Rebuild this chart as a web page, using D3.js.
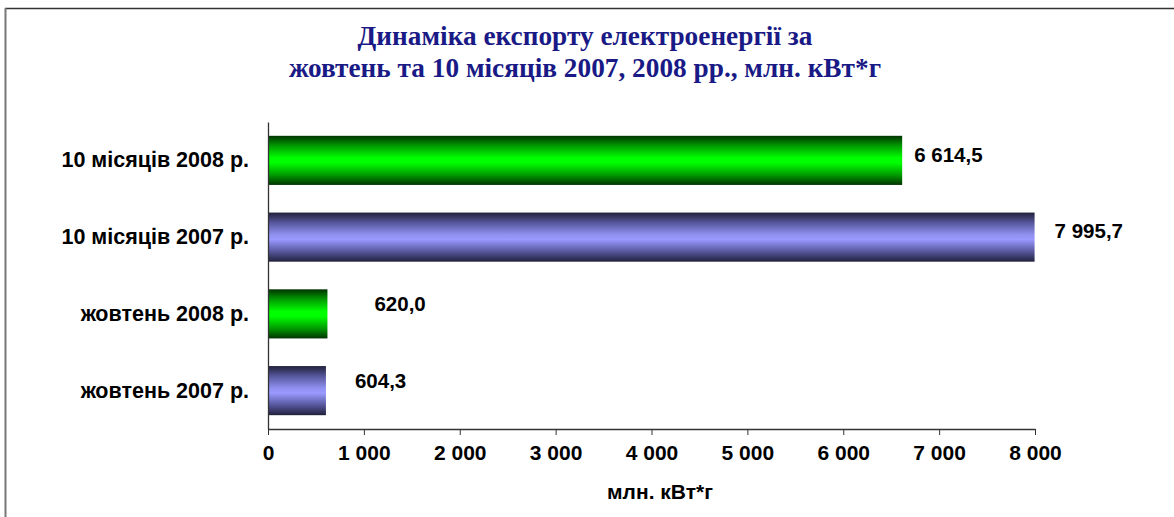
<!DOCTYPE html>
<html>
<head>
<meta charset="utf-8">
<script src="https://cdnjs.cloudflare.com/ajax/libs/d3/7.8.5/d3.min.js"></script>
<style>
  body { margin: 0; background: #fff; }
  svg { display: block; }
</style>
</head>
<body>
<script>
// export of electricity, bar chart

// data
var categories = ["жовтень 2007 р.", "жовтень 2008 р.", "10 місяців 2007 р.", "10 місяців 2008 р."];
var values = [604.3, 620.0, 7995.7, 6614.5];
var valueLabels = ["604,3", "620,0", "7 995,7", "6 614,5"];
var barColors = ["blue", "green", "blue", "green"];
var tickValues = [0, 1000, 2000, 3000, 4000, 5000, 6000, 7000, 8000];
var titleLines = ["Динаміка експорту електроенергії за", "жовтень та 10 місяців 2007, 2008 рр., млн. кВт*г"];
var axisTitle = "млн. кВт*г";

// label nudges (the original labels were dragged by hand)
var labelDx = [29, 47, 20, 12];
var labelDy = [-10, -10, -6, -6];

var W = 1174, H = 517;
var margin = {top: 122, right: 139, bottom: 88, left: 268};
var width = W - margin.left - margin.right;
var height = H - margin.top - margin.bottom;

var font = "'Liberation Sans', Arial, sans-serif";
var fontSize = "20.5px";

var svg = d3.select("body").append("svg")
    .attr("width", W)
    .attr("height", H);

// gradients
var defs = svg.append("defs");
var grads = {
    green: ["#003300", "#009900", "#00ff00", "#00ff00", "#009900", "#003300"],
    blue:  ["#20203a", "#55559a", "#9090f0", "#9999ff", "#55559a", "#20203a"]
};
var stops = [0, 0.2, 0.45, 0.55, 0.8, 1];
Object.keys(grads).forEach(function(k) {
    var g = defs.append("linearGradient")
        .attr("id", "grad-" + k)
        .attr("x1", 0).attr("y1", 0).attr("x2", 0).attr("y2", 1);
    grads[k].forEach(function(c, i) {
        g.append("stop").attr("offset", stops[i]).attr("stop-color", c);
    });
});

// frame
svg.append("line").attr("x1", 5).attr("x2", W).attr("y1", 8.5).attr("y2", 8.5)
    .attr("stroke", "#333").attr("stroke-width", 1.5);
svg.append("line").attr("x1", 5.5).attr("x2", 5.5).attr("y1", 8).attr("y2", H)
    .attr("stroke", "#777").attr("stroke-width", 2);

// title
svg.selectAll(".title")
    .data(titleLines)
    .enter().append("text")
    .attr("class", "title")
    .attr("x", 585)
    .attr("y", function(d, i) { return 45 + i * 32; })
    .attr("text-anchor", "middle")
    .style("font-family", "'Liberation Serif', 'Times New Roman', serif")
    .style("font-weight", "bold")
    .style("font-size", "27.3px")
    .style("fill", "#1a1a86")
    .text(function(d) { return d; });

var g = svg.append("g")
    .attr("transform", "translate(" + margin.left + "," + margin.top + ")");

var xScale = d3.scaleLinear().domain([0, 8000]).range([0, width]);
var yScale = d3.scaleBand().domain(categories.slice().reverse()).range([0, height]).paddingInner(0.36).paddingOuter(0.18);

// bars
g.selectAll(".bar")
    .data(values)
    .enter().append("rect")
    .attr("class", "bar")
    .attr("x", 1)
    .attr("y", function(d, i) { return yScale(categories[i]); })
    .attr("width", function(d) { return xScale(d) - 1; })
    .attr("height", yScale.bandwidth())
    .attr("fill", function(d, i) { return "url(#grad-" + barColors[i] + ")"; });

// value labels
g.selectAll(".vlabel")
    .data(values)
    .enter().append("text")
    .attr("class", "vlabel")
    .attr("x", function(d, i) { return xScale(d) + labelDx[i]; })
    .attr("y", function(d, i) { return yScale(categories[i]) + yScale.bandwidth() / 2 + labelDy[i]; })
    .attr("dy", "0.35em")
    .style("font-family", font)
    .style("font-weight", "bold")
    .style("font-size", fontSize)
    .text(function(d, i) { return valueLabels[i]; });

// axes
var xAxis = d3.axisBottom(xScale)
    .tickValues(tickValues)
    .tickSize(6)
    .tickSizeOuter(0)
    .tickPadding(10)
    .tickFormat(function(d) { return d3.format(",")(d).replace(/,/g, " "); });

var gx = g.append("g")
    .attr("transform", "translate(0," + height + ")")
    .call(xAxis);

var yAxis = d3.axisLeft(yScale).tickSize(0).tickSizeOuter(0).tickPadding(19);
var gy = g.append("g").call(yAxis);

[gx, gy].forEach(function(a) {
    a.select(".domain").attr("stroke", "#333").attr("stroke-width", 1.3);
    a.selectAll(".tick line").attr("stroke", "#333");
    a.selectAll("text")
        .style("font-family", font)
        .style("font-weight", "bold")
        .style("font-size", "21px")
        .attr("fill", "#000");
});
gy.selectAll("text").style("font-size", "21.5px");

// axis title
svg.append("text")
    .attr("x", 660)
    .attr("y", 499)
    .attr("text-anchor", "middle")
    .style("font-family", font)
    .style("font-weight", "bold")
    .style("font-size", "21px")
    .text(axisTitle);
</script>
</body>
</html>
